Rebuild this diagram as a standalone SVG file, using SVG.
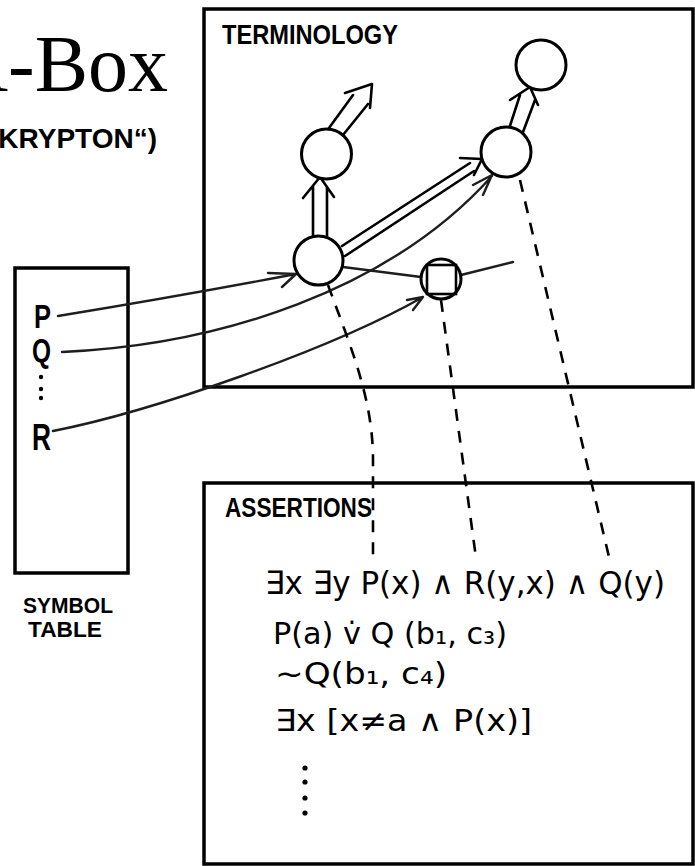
<svg xmlns="http://www.w3.org/2000/svg" width="695" height="866" viewBox="0 0 695 866">
<style>
.box{fill:none;stroke:#000;stroke-width:3.5}
.node{fill:#fff;stroke:#000;stroke-width:3}
.dbl{fill:none;stroke:#000;stroke-width:2.6;stroke-linecap:round;stroke-linejoin:round}
.link{fill:none;stroke:#1e1e1e;stroke-width:2.4;stroke-linecap:round;stroke-linejoin:round}
.dash{fill:none;stroke:#000;stroke-width:2.6;stroke-dasharray:12 10}
.hand{font-family:"Liberation Sans","DejaVu Sans",sans-serif;font-weight:bold;fill:#000}
.formula{font-family:"DejaVu Sans","Liberation Sans",sans-serif;fill:#000}
</style>
<rect width="695" height="866" fill="#fff"/>

<g id="title">
  <text x="168" y="91" text-anchor="end" font-family="'Liberation Serif','Times New Roman',serif" font-size="80">A-Box</text>
  <text x="157" y="148" text-anchor="end" font-family="'Liberation Sans',Arial,sans-serif" font-weight="bold" font-size="28">KRYPTON“)</text>
</g>

<g id="terminology">
  <rect class="box" x="204" y="9" width="489" height="378"/>
  <text class="hand" x="222" y="44" font-size="28" textLength="176" lengthAdjust="spacingAndGlyphs">TERMINOLOGY</text>
</g>

<g id="symbol-table">
  <rect class="box" x="15" y="268" width="113" height="305"/>
  <text class="hand" x="34" y="328" font-size="34" textLength="17" lengthAdjust="spacingAndGlyphs">P</text>
  <text class="hand" x="32" y="362" font-size="33" textLength="19" lengthAdjust="spacingAndGlyphs">Q</text>
  <circle cx="41" cy="377" r="2.2" fill="#000"/>
  <circle cx="41" cy="389" r="2.2" fill="#000"/>
  <circle cx="41" cy="398" r="2.2" fill="#000"/>
  <text class="hand" x="32" y="450" font-size="36" textLength="19" lengthAdjust="spacingAndGlyphs">R</text>
  <text class="hand" x="23" y="613" font-size="22" textLength="90" lengthAdjust="spacingAndGlyphs">SYMBOL</text>
  <text class="hand" x="28" y="637" font-size="22" textLength="74" lengthAdjust="spacingAndGlyphs">TABLE</text>
</g>

<g id="assertions">
  <rect class="box" x="204" y="483" width="489" height="381"/>
  <text class="hand" x="225" y="517" font-size="27" textLength="147" lengthAdjust="spacingAndGlyphs">ASSERTIONS</text>
  <text class="formula" x="265" y="594" font-size="32" textLength="400" lengthAdjust="spacingAndGlyphs">∃x ∃y P(x) ∧ R(y,x) ∧ Q(y)</text>
  <text class="formula" x="273" y="644" font-size="30" textLength="234" lengthAdjust="spacingAndGlyphs">P(a) v̇ Q (b₁, c₃)</text>
  <text class="formula" x="275" y="684" font-size="30" textLength="172" lengthAdjust="spacingAndGlyphs">~Q(b₁, c₄)</text>
  <text class="formula" x="275" y="731" font-size="30" textLength="257" lengthAdjust="spacingAndGlyphs">∃x [x≠a ∧ P(x)]</text>
  <circle cx="305" cy="768" r="2.6" fill="#000"/>
  <circle cx="305" cy="782" r="2.6" fill="#000"/>
  <circle cx="305" cy="798" r="2.6" fill="#000"/>
  <circle cx="305" cy="813" r="2.6" fill="#000"/>
</g>

<g id="connectors">
  <path class="dbl" d="M313,237 L313,186 M327,237.5 L327,187 M303,198 L320,177 L334,197"/>
  <path class="dbl" d="M329,128 L353,95 M343,135 L368,104 M345,93 L372,84 L370,108"/>
  <path class="dbl" d="M342,246 L470,163 M345,256 L474,171 M460,158 L482,159 L474,175"/>
  <path class="dbl" d="M508,132 L520,95 M523,132 L535,100 M510,100 L530,87 L538,105"/>
  <path class="link" d="M343,267 L421,277"/>
  <path class="link" d="M461,275 L513,262"/>
  <path class="link" d="M58,316 Q180,296 296,274 M268,273 L296,274 L282,287"/>
  <path class="link" d="M62,352 C220,345 390,290 492,176 M473,185 L492,175 L483,195"/>
  <path class="link" d="M53,431 C150,412 330,350 423,297 M407,300 L423,297 L413,310"/>
  <path class="dash" d="M328,285 C352,350 373,400 373,460 L373,558"/>
  <path class="dash" d="M441,300 L476,558"/>
  <path class="dash" d="M520,180 L609,557"/>
</g>

<g id="node-a"><circle class="node" cx="326.5" cy="154" r="25"/></g>
<g id="node-b"><circle class="node" cx="318.5" cy="260.5" r="24.5"/></g>
<g id="node-c"><circle class="node" cx="506" cy="152" r="25"/></g>
<g id="node-d"><circle class="node" cx="541" cy="65" r="25"/></g>
<g id="node-e">
  <circle class="node" cx="441" cy="279" r="20"/>
  <rect x="427" y="265" width="29" height="29" fill="none" stroke="#000" stroke-width="2.6"/>
</g>
</svg>
